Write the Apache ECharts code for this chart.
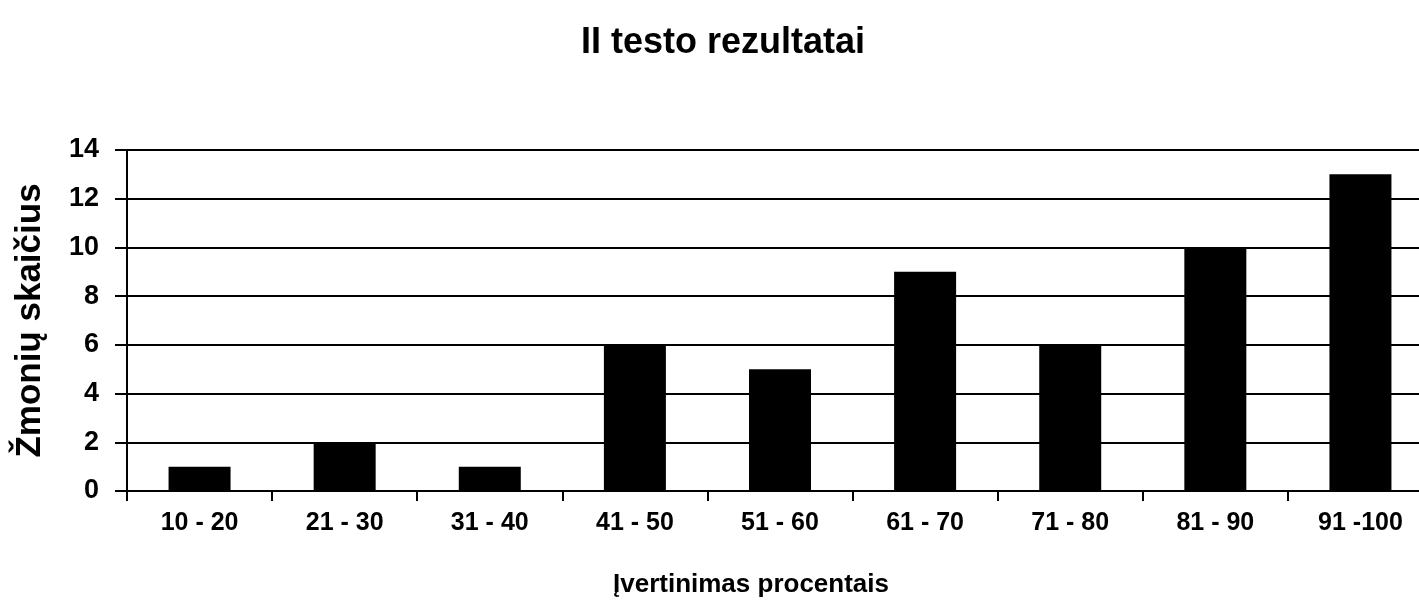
<!DOCTYPE html>
<html>
<head>
<meta charset="utf-8">
<script src="https://cdn.jsdelivr.net/npm/echarts@6/dist/echarts.min.js"></script>
<style>
html,body{margin:0;padding:0;background:#fff;}
#chart{width:1419px;height:612px;}
</style>
</head>
<body>
<div id="chart"></div>
<script>
const categories = ['10 - 20', '21 - 30', '31 - 40', '41 - 50', '51 - 60', '61 - 70', '71 - 80', '81 - 90', '91 -100'];
const counts = [1, 2, 1, 6, 5, 9, 6, 10, 13];
const titleText = 'II testo rezultatai';
const xName = 'Įvertinimas procentais';
const yName = 'Žmonių skaičius';

const FONT = '"Liberation Sans", Arial, sans-serif';
const chart = echarts.init(document.getElementById('chart'), null, {renderer: 'canvas'});
chart.setOption({
  backgroundColor: '#ffffff',
  animation: false,
  title: {
    text: titleText,
    left: 718,
    textAlign: 'center',
    top: 20,
    textStyle: {fontFamily: FONT, fontWeight: 'bold', fontSize: 36, color: '#000'}
  },
  grid: {left: 127, right: -14, top: 150, bottom: 121, containLabel: false, outerBoundsMode: 'none'},
  xAxis: {
    type: 'category',
    data: categories,
    name: xName,
    nameLocation: 'middle',
    nameGap: 81,
    nameTextStyle: {fontFamily: FONT, fontWeight: 'bold', fontSize: 26, color: '#000', padding: [0, 58, 0, 0]},
    axisLine: {lineStyle: {color: '#000', width: 2}},
    axisTick: {show: true, length: 10, lineStyle: {color: '#000', width: 2}},
    axisLabel: {fontFamily: FONT, fontWeight: 'bold', fontSize: 25, color: '#000', margin: 20},
    splitLine: {show: false}
  },
  yAxis: {
    type: 'value',
    min: 0,
    max: 14,
    interval: 2,
    name: yName,
    nameLocation: 'middle',
    nameGap: 79,
    nameTextStyle: {fontFamily: FONT, fontWeight: 'bold', fontSize: 35, color: '#000'},
    axisLine: {show: true, lineStyle: {color: '#000', width: 2}},
    axisTick: {show: true, length: 12, lineStyle: {color: '#000', width: 2}},
    axisLabel: {fontFamily: FONT, fontWeight: 'bold', fontSize: 27, color: '#000', margin: 28},
    splitLine: {show: true, lineStyle: {color: '#000', width: 2}}
  },
  series: [{
    type: 'bar',
    data: counts,
    barWidth: 62,
    itemStyle: {color: '#000'}
  }]
});
</script>
</body>
</html>
